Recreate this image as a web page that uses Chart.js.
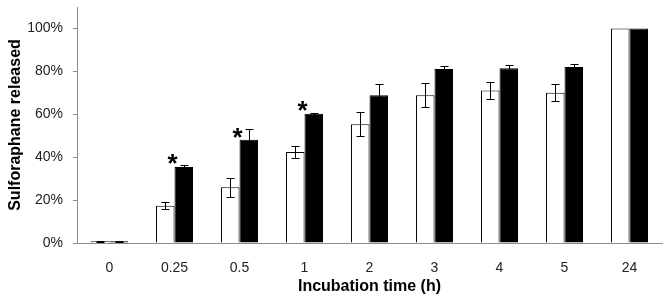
<!DOCTYPE html>
<html>
<head>
<meta charset="utf-8">
<script src="https://cdn.jsdelivr.net/npm/chart.js@4/dist/chart.umd.min.js"></script>
<style>
    html, body { margin: 0; padding: 0; background: #fff; }
    #wrap { width: 669px; height: 300px; }
</style>
</head>
<body>
<div id="wrap"><canvas id="chart"></canvas></div>
<script>
// values (percent released)
const time_labels = ['0', '0.25', '0.5', '1', '2', '3', '4', '5', '24'];
const open_values = [0.8, 17.4, 26.0, 42.4, 55.4, 68.9, 71.1, 70.0, 100];
const open_errors = [0.3, 1.6, 4.4, 3.0, 5.7, 5.5, 4.0, 3.9, 0];
const filled_values = [0.8, 35.4, 48.1, 60.3, 68.9, 81.1, 81.5, 82.0, 100];
const filled_errors = [0.3, 1.0, 4.9, 0.5, 5.0, 1.4, 1.6, 1.5, 0];
// height of the significance star, null where there is none
const star_levels = [null, 40, 52, 64.7, null, null, null, null, null];
const y_ticks = [0, 20, 40, 60, 80, 100];

const FONT = '"Liberation Sans", Arial, sans-serif';
const AXIS_GRAY = '#8c8c8c';

const error_bars = {
    id: 'error_bars',
    afterDatasetsDraw(chart) {
        const ctx = chart.ctx;
        const y = chart.scales.y;
        const errs = [open_errors, filled_errors];
        ctx.save();
        ctx.strokeStyle = '#000';
        ctx.lineWidth = 1;
        chart.data.datasets.forEach((ds, di) => {
            const meta = chart.getDatasetMeta(di);
            meta.data.forEach((bar, i) => {
                const e = errs[di][i];
                if (!e) {
                    return;
                }
                const v = ds.data[i];
                const x = Math.round(bar.x) + 0.5;
                const top = Math.round(y.getPixelForValue(v + e)) + 0.5;
                const bottom = Math.round(y.getPixelForValue(v - e)) + 0.5;
                ctx.beginPath();
                ctx.moveTo(x, top);
                ctx.lineTo(x, bottom);
                ctx.moveTo(x - 4, top);
                ctx.lineTo(x + 4, top);
                ctx.moveTo(x - 4, bottom);
                ctx.lineTo(x + 4, bottom);
                ctx.stroke();
            });
        });
        ctx.restore();
    }
};

const stars = {
    id: 'stars',
    afterDatasetsDraw(chart) {
        const ctx = chart.ctx;
        const x = chart.scales.x;
        const y = chart.scales.y;
        ctx.save();
        ctx.fillStyle = '#000';
        ctx.font = 'bold 26px ' + FONT;
        ctx.textAlign = 'center';
        ctx.textBaseline = 'alphabetic';
        star_levels.forEach((lvl, i) => {
            if (lvl === null) {
                return;
            }
            const cx = x.getPixelForValue(i) - 2;
            const cy = y.getPixelForValue(lvl);
            ctx.fillText('*', cx, cy + 0.57 * 26);
        });
        ctx.restore();
    }
};

new Chart(document.getElementById('chart'), {
    type: 'bar',
    data: {
        labels: time_labels,
        datasets: [
            {
                label: 'open',
                data: open_values,
                backgroundColor: '#fff',
                borderColor: '#000',
                borderWidth: 1,
                categoryPercentage: 0.57,
                barPercentage: 1,
            },
            {
                label: 'filled',
                data: filled_values,
                backgroundColor: '#000',
                borderColor: '#000',
                borderWidth: 1,
                categoryPercentage: 0.57,
                barPercentage: 1,
            },
        ]
    },
    options: {
        responsive: true,
        maintainAspectRatio: false,
        animation: false,
        layout: { padding: { top: 7, right: 7, left: 0, bottom: 0 } },
        plugins: {
            legend: { display: false },
            tooltip: { enabled: false },
        },
        scales: {
            x: {
                grid: { display: false },
                border: { color: AXIS_GRAY, width: 1 },
                ticks: {
                    color: '#222',
                    font: { family: FONT, size: 14 },
                    padding: 9,
                    maxRotation: 0,
                },
                title: {
                    display: true,
                    text: 'Incubation time (h)',
                    color: '#000',
                    font: { family: FONT, size: 16, weight: 'bold' },
                    padding: { top: 4, bottom: 4 },
                },
                afterFit(scale) {
                    scale.height = 57;
                    scale.paddingLeft = 0;
                    scale.paddingRight = 0;
                },
            },
            y: {
                min: 0,
                max: 110,
                grid: {
                    drawOnChartArea: false,
                    drawTicks: true,
                    tickLength: 4,
                    color: AXIS_GRAY,
                },
                border: { color: AXIS_GRAY, width: 1 },
                afterBuildTicks(scale) {
                    scale.ticks = y_ticks.map((v) => ({ value: v }));
                },
                ticks: {
                    color: '#222',
                    padding: 10,
                    font: { family: FONT, size: 14 },
                    callback: (v) => v + '%',
                },
                title: {
                    display: true,
                    text: 'Sulforaphane released',
                    color: '#000',
                    font: { family: FONT, size: 16, weight: 'bold' },
                    padding: { top: 6, bottom: 4 },
                },
                afterFit(scale) {
                    scale.width = 77;
                    scale.paddingTop = 0;
                    scale.paddingBottom = 0;
                },
            },
        },
    },
    plugins: [error_bars, stars],
});
</script>
</body>
</html>
